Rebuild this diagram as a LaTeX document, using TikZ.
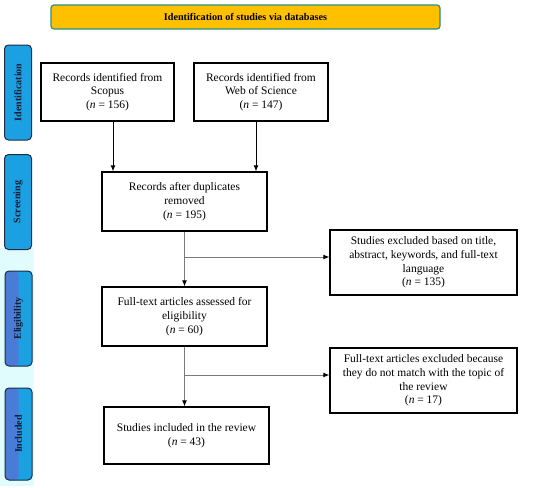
\documentclass[tikz,border=0pt]{standalone}
\usepackage{fontspec}
\setmainfont{Liberation Serif}
\usetikzlibrary{arrows.meta}
\definecolor{bannerfill}{HTML}{FFC000}
\definecolor{bannerline}{HTML}{2A9080}
\definecolor{phasefill}{HTML}{1BA1E2}
\definecolor{phaseblue}{HTML}{4A7BD6}
\definecolor{phaseline}{HTML}{1F2A44}
\definecolor{phasetext}{HTML}{141C33}
\definecolor{glow}{HTML}{E0FCFC}
\definecolor{conn}{HTML}{7A7A7A}
\tikzset{
  x=1pt, y=-1pt,
  box/.style={draw=black, line width=1.2pt, fill=white, align=center, inner sep=2pt,
    font=\fontsize{11.5}{13.8}\selectfont},
  phase/.style={draw=phaseline, line width=1pt, fill=phasefill, rounded corners=4pt,
    minimum width=27pt, minimum height=95pt, inner sep=0pt},
  phaselabel/.style={rotate=90, font=\bfseries\fontsize{10}{12}\selectfont, text=phasetext},
  twotone/.style={path picture={\fill[phaseblue] (path picture bounding box.south west) rectangle (path picture bounding box.north);}},
  arr/.style={-{Latex[length=6pt,width=5pt,color=black]}, line width=1pt},
}
\begin{document}
\begin{tikzpicture}
\useasboundingbox (0,0) rectangle (550,488);
\fill[white] (0,0) rectangle (550,488);
\fill[glow] (0,248) rectangle (34,486);

% banner
\node[draw=bannerline, line width=1.2pt, fill=bannerfill, rounded corners=3pt,
  minimum width=389pt, minimum height=24pt, font=\bfseries\fontsize{10.2}{12}\selectfont]
  (banner) at (245.5,17) {Identification of studies via databases};

% phase boxes
\node[phase] (pid) at (18,92.5) {};
\node[phaselabel] (pidl) at (pid.center) {Identification};
\node[phase] (psc) at (18,202) {};
\node[phaselabel] (pscl) at (psc.center) {Screening};
\node[phase, twotone] (pel) at (18.5,318.5) {};
\node[phaselabel] (pell) at (pel.center) {Eligibility};
\node[phase, twotone, minimum height=92pt] (pin) at (18.5,434) {};
\node[phaselabel] (pinl) at (pin.center) {Included};

% boxes
\node[box, minimum width=133pt, minimum height=58pt] (scopus) at (107.5,92)
  {Records identified from\\ Scopus\\ (\textit{n} = 156)};
\node[box, minimum width=134pt, minimum height=58pt] (wos) at (261,92)
  {Records identified from\\ Web of Science\\ (\textit{n} = 147)};
\node[box, minimum width=165pt, minimum height=59pt] (dup) at (184.5,201.5)
  {Records after duplicates\\ removed\\ (\textit{n} = 195)};
\node[box, minimum width=187pt, minimum height=65pt] (ex1) at (423.5,262.5)
  {Studies excluded based on title,\\ abstract, keywords, and full-text\\ language\\ (\textit{n} = 135)};
\node[box, minimum width=165pt, minimum height=59pt] (full) at (184.5,316.5)
  {Full-text articles assessed for\\ eligibility\\ (\textit{n} = 60)};
\node[box, minimum width=187pt, minimum height=65pt] (ex2) at (423.5,380.5)
  {Full-text articles excluded because\\ they do not match with the topic of\\ the review\\ (\textit{n} = 17)};
\node[box, minimum width=165pt, minimum height=57pt] (inc) at (186.5,435.5)
  {Studies included in the review\\ (\textit{n} = 43)};

% connectors
\draw[arr] ([xshift=5.5pt]scopus.south) -- ([xshift=5.5pt]scopus.south |- dup.north);
\draw[arr] ([xshift=-5pt]wos.south) -- ([xshift=-5pt]wos.south |- dup.north);
\draw[arr, draw=conn] (dup.south) -- (full.north);
\coordinate (b1) at (184.5,257);
\draw[arr, draw=conn] (b1) -- (b1 -| ex1.west);
\draw[arr, draw=conn] (full.south) -- (full.south |- inc.north);
\coordinate (b2) at (184.5,375);
\draw[arr, draw=conn] (b2) -- (b2 -| ex2.west);
\end{tikzpicture}
\end{document}
